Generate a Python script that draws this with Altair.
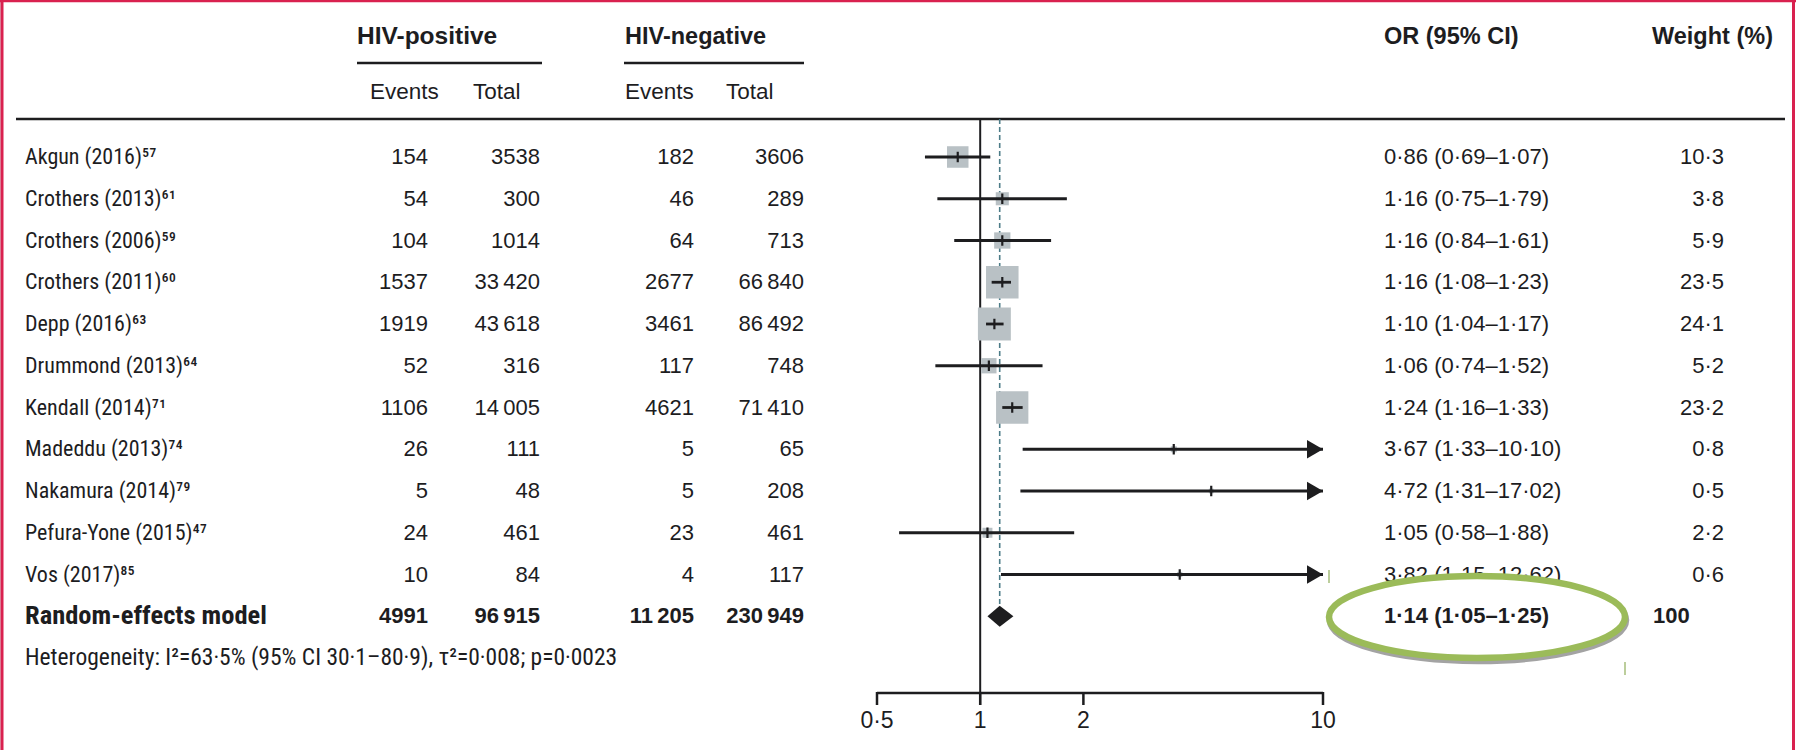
import altair as alt
import pandas as pd

# ---------------- data ----------------
studies = ["Akgun (2016)⁵⁷", "Crothers (2013)⁶¹", "Crothers (2006)⁵⁹", "Crothers (2011)⁶⁰",
           "Depp (2016)⁶³", "Drummond (2013)⁶⁴", "Kendall (2014)⁷¹", "Madeddu (2013)⁷⁴",
           "Nakamura (2014)⁷⁹", "Pefura-Yone (2015)⁴⁷", "Vos (2017)⁸⁵"]
pos_events = [154, 54, 104, 1537, 1919, 52, 1106, 26, 5, 24, 10]
pos_total = [3538, 300, 1014, 33420, 43618, 316, 14005, 111, 48, 461, 84]
neg_events = [182, 46, 64, 2677, 3461, 117, 4621, 5, 5, 23, 4]
neg_total = [3606, 289, 713, 66840, 86492, 748, 71410, 65, 208, 461, 117]
or_est = [0.86, 1.16, 1.16, 1.16, 1.10, 1.06, 1.24, 3.67, 4.72, 1.05, 3.82]
or_lo = [0.69, 0.75, 0.84, 1.08, 1.04, 0.74, 1.16, 1.33, 1.31, 0.58, 1.15]
or_hi = [1.07, 1.79, 1.61, 1.23, 1.17, 1.52, 1.33, 10.10, 17.02, 1.88, 12.62]
weights = [10.3, 3.8, 5.9, 23.5, 24.1, 5.2, 23.2, 0.8, 0.5, 2.2, 0.6]

pooled_label = "Random-effects model"
pooled_counts = [4991, 96915, 11205, 230949]
pooled_or = [1.14, 1.05, 1.25]
pooled_weight = "100"
heterogeneity = "Heterogeneity: I²=63·5% (95% CI 30·1–80·9), τ²=0·008; p=0·0023"
axis_ticks = [0.5, 1, 2, 10]


def fmt_int(n):
    return f"{n:,}".replace(",", "\u2009") if n >= 10000 else str(n)


def fmt_dec(v, d=2):
    return f"{v:.{d}f}".replace(".", "·")


def fmt_or(e, lo, hi):
    return f"{fmt_dec(e)} ({fmt_dec(lo)}–{fmt_dec(hi)})"


df = pd.DataFrame({
    "row": list(range(len(studies))),
    "study": studies,
    "pe": [fmt_int(v) for v in pos_events],
    "pt": [fmt_int(v) for v in pos_total],
    "ne": [fmt_int(v) for v in neg_events],
    "nt": [fmt_int(v) for v in neg_total],
    "est": or_est, "lo": or_lo, "hi": or_hi, "w": weights,
    "orlab": [fmt_or(e, l, h) for e, l, h in zip(or_est, or_lo, or_hi)],
    "wlab": [fmt_dec(w, 1) for w in weights],
})
prow = len(studies)
dpool = pd.DataFrame({
    "row": [prow], "study": [pooled_label],
    "pe": [fmt_int(pooled_counts[0])], "pt": [fmt_int(pooled_counts[1])],
    "ne": [fmt_int(pooled_counts[2])], "nt": [fmt_int(pooled_counts[3])],
    "est": [pooled_or[0]], "lo": [pooled_or[1]], "hi": [pooled_or[2]],
    "orlab": [fmt_or(*pooled_or)], "wlab": [pooled_weight],
})
half = 0.25
ddia = pd.DataFrame({
    "x": [pooled_or[1], pooled_or[0], pooled_or[2]],
    "ya": [prow, prow - half, prow],
    "yb": [prow, prow + half, prow],
})
dhet = pd.DataFrame({"row": [prow + 1], "t": [heterogeneity]})
dticks = pd.DataFrame({"v": axis_ticks, "lab": [fmt_dec(v, 1) if v < 1 else str(v) for v in axis_ticks]})

# ---------------- styles ----------------
NARROW = "Liberation Sans Narrow, Roboto Condensed, Liberation Sans, sans-serif"
WIDE = "Liberation Sans, Arial, sans-serif"
INK = "#1d1d1f"
ROW0, ROWSTEP = 157, 41.75
yscale = alt.Scale(domain=[0, prow + 1], range=[ROW0, ROW0 + ROWSTEP * (prow + 1)])
xscale = alt.Scale(type="log", domain=[0.5, 10], range=[877, 1323], clamp=True)
Y = alt.Y("row:Q", scale=yscale, axis=None)


def txt(data, field, x, align="left", bold=False, font=WIDE, size=22):
    return alt.Chart(data).mark_text(
        align=align, baseline="middle", font=font, fontSize=size, color=INK,
        fontWeight="bold" if bold else "normal",
    ).encode(x=alt.value(x), y=Y, text=f"{field}:N")


def head(text, x, y, bold=True, size=23.5):
    return alt.Chart(pd.DataFrame({"t": [text]})).mark_text(
        align="left", baseline="middle", font=WIDE, fontSize=size, color=INK,
        fontWeight="bold" if bold else "normal",
    ).encode(x=alt.value(x), y=alt.value(y), text="t:N")


def hrule(x1, x2, y, w=2.5, color=INK):
    return alt.Chart(pd.DataFrame({"a": [0]})).mark_rule(color=color, strokeWidth=w).encode(
        x=alt.value(x1), x2=alt.value(x2), y=alt.value(y))


def vrule(x, y1, y2, w=2.5, color=INK):
    return alt.Chart(pd.DataFrame({"a": [0]})).mark_rule(color=color, strokeWidth=w).encode(
        x=alt.value(x), y=alt.value(y1), y2=alt.value(y2))


layers = []
# borders of the screenshot frame
BORDER = "#d9214f"
layers += [vrule(2, 0, 750, 3, BORDER), vrule(1793.5, 0, 750, 3, BORDER), hrule(0, 1796, 1, 2.5, BORDER)]

# headers
layers += [
    head("HIV-positive", 357, 37, size=24.5), head("HIV-negative", 625, 37, size=23.5),
    head("OR (95% CI)", 1384, 37), head("Weight (%)", 1652, 37),
    head("Events", 370, 92, bold=False, size=22.5), head("Total", 473, 92, bold=False, size=22.5),
    head("Events", 625, 92, bold=False, size=22.5), head("Total", 726, 92, bold=False, size=22.5),
    hrule(357, 542, 63), hrule(624, 804, 63), hrule(16, 1785, 119),
]

# study rows text
layers += [
    txt(df, "study", 25, font=NARROW, size=22),
    txt(df, "pe", 428, "right"), txt(df, "pt", 540, "right"),
    txt(df, "ne", 694, "right"), txt(df, "nt", 804, "right"),
    txt(df, "wlab", 1724, "right"),
]
layers += [txt(df[df.row < prow - 1], "orlab", 1384)]
vos = txt(df[df.row == prow - 1], "orlab", 1384)

# pooled row text
layers += [
    txt(dpool, "study", 25, bold=True, font=NARROW, size=26.5),
    txt(dpool, "pe", 428, "right", True), txt(dpool, "pt", 540, "right", True),
    txt(dpool, "ne", 694, "right", True), txt(dpool, "nt", 804, "right", True),
    txt(dpool, "wlab", 1653, "left", True),
]
layers += [alt.Chart(dhet).mark_text(align="left", baseline="middle", font=NARROW, fontSize=23.5, color=INK)
           .encode(x=alt.value(25), y=Y, text="t:N")]

# forest plot
base = alt.Chart(df)
layers += [
    alt.Chart(pd.DataFrame({"v": [1]})).mark_rule(color=INK, strokeWidth=2).encode(
        x=alt.X("v:Q", scale=xscale, axis=None), y=alt.value(119), y2=alt.value(705)),
    alt.Chart(dpool).mark_rule(color="#4d7c88", strokeWidth=1.6, strokeDash=[5, 3]).encode(
        x=alt.X("est:Q", scale=xscale, axis=None), y=alt.value(119), y2=alt.value(608)),
    base.mark_square(filled=True, color="#b9c1c5", opacity=1).encode(
        x=alt.X("est:Q", scale=xscale, axis=None), y=Y,
        size=alt.Size("w:Q", scale=alt.Scale(domain=[0, 1], range=[0, 45]), legend=None)),
    base.mark_rule(color=INK, strokeWidth=2.8).encode(
        x=alt.X("lo:Q", scale=xscale, axis=None), x2="hi:Q", y=Y),
    base.mark_point(shape="M0,-1L0,1", size=110, filled=False, color=INK, strokeWidth=2.2, opacity=1).encode(
        x=alt.X("est:Q", scale=xscale, axis=None), y=Y),
    base.transform_filter("datum.hi > 10").mark_point(
        shape="triangle-right", filled=True, size=340, color=INK, opacity=1, xOffset=-8).encode(
        x=alt.X("hi:Q", scale=xscale, axis=None), y=Y),
    alt.Chart(ddia).mark_area(color=INK, opacity=1).encode(
        x=alt.X("x:Q", scale=xscale, axis=None), y=alt.Y("ya:Q", scale=yscale, axis=None), y2="yb:Q"),
    # manual axis
    alt.Chart(dticks).mark_rule(color=INK, strokeWidth=2.5).encode(
        x=alt.X("min(v):Q", scale=xscale, axis=None), x2="max(v):Q", y=alt.value(693)),
    alt.Chart(dticks).mark_rule(color=INK, strokeWidth=2.5).encode(
        x=alt.X("v:Q", scale=xscale, axis=None), y=alt.value(692), y2=alt.value(705)),
    alt.Chart(dticks).mark_text(align="center", baseline="middle", font=WIDE, fontSize=23, color=INK).encode(
        x=alt.X("v:Q", scale=xscale, axis=None), y=alt.value(721), text="lab:N"),
]

# annotation ellipse over the pooled estimate
layers += [vos]
E = 0.277
K = 0.5523
ell = (f"M-1,0C-1,{-K*E:.4f},{-K:.4f},{-E},0,{-E}C{K:.4f},{-E},1,{-K*E:.4f},1,0"
       f"C1,{K*E:.4f},{K:.4f},{E},0,{E}C{-K:.4f},{E},-1,{K*E:.4f},-1,0Z")
one = pd.DataFrame({"a": [0]})
layers += [
    alt.Chart(one).mark_point(shape=ell, size=296 ** 2, filled=False, color="#a3a3a3", strokeWidth=6.5, opacity=1)
    .encode(x=alt.value(1478), y=alt.value(620)),
    alt.Chart(one).mark_point(shape=ell, size=296 ** 2, filled=True, fill="white", stroke="#9bbb59",
                              strokeWidth=6.5, opacity=1, fillOpacity=1, strokeOpacity=1)
    .encode(x=alt.value(1477), y=alt.value(617)),
    vrule(1329, 570, 583, 1.2, "#8fae5a"), vrule(1625, 662, 675, 1.2, "#8fae5a"),
]
layers += [txt(dpool, "orlab", 1384, bold=True)]

chart = alt.layer(*layers).properties(
    width=1796, height=750, autosize="none", padding=0
).configure_view(stroke=None).configure(background="white")

chart.save("out.html", embed_options={"renderer": "svg", "actions": False})
